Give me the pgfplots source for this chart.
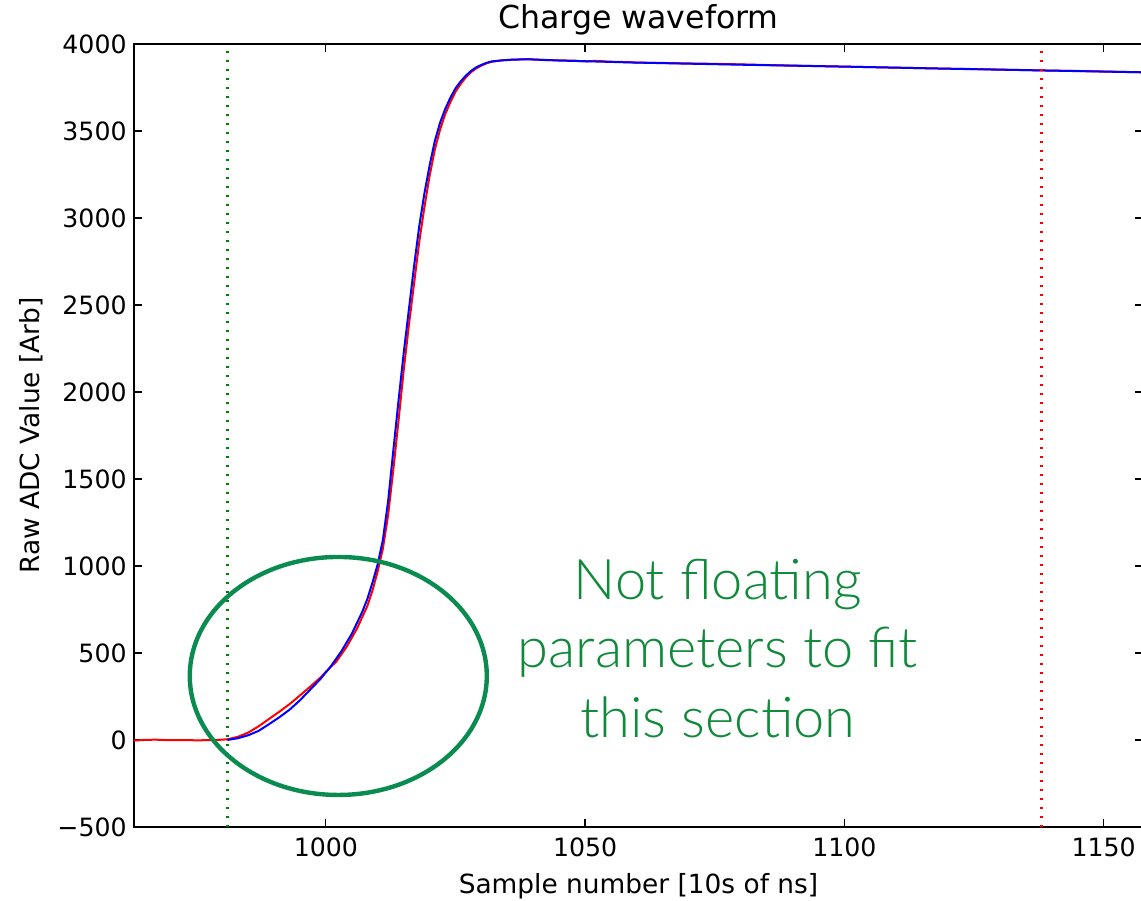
\documentclass[border=0pt]{standalone}
\usepackage{pgfplots}
\pgfplotsset{compat=1.18}
\usepackage{fontspec}
\setmainfont{DejaVu Sans}
\newfontfamily\notefont{Lato Light}

\definecolor{mplgreen}{rgb}{0,0.5,0}
\definecolor{notegreen}{RGB}{16,138,58}
\definecolor{ringgreen}{RGB}{10,140,80}

% measured charge waveform (raw ADC counts)
\pgfplotstableread{
x y
963 -3
965 0
967 2
969 0
971 -1
973 0
975 -2
977 -1
979 0
981 4
983 18
985 42
987 78
989 120
991 162
993 206
995 256
997 307
999 360
1000 392
1002 450
1004 535
1006 640
1008 770
1009 860
1010 970
1011 1100
1012 1290
1013 1550
1014 1830
1015 2120
1016 2380
1017 2620
1018 2860
1019 3060
1020 3240
1021 3390
1022 3505
1023 3595
1024 3665
1025 3725
1026 3770
1027 3808
1028 3838
1029 3860
1030 3876
1031 3889
1032 3898
1034 3906
1036 3910
1039 3913
1042 3908
1045 3906
1048 3904
1050 3900
1052 3903
1055 3898
1058 3896
1060 3893
1065 3891
1070 3888
1075 3886
1080 3883
1085 3879
1090 3876
1095 3873
1100 3870
1105 3867
1110 3864
1115 3861
1120 3858
1125 3856
1130 3853
1135 3850
1140 3847
1145 3845
1150 3842
1155 3839
1158 3837
}\datatable

% fitted pulse shape
\pgfplotstableread{
x y
981 0
983 10
985 27
987 52
989 90
991 130
993 174
995 228
997 290
999 352
1001 425
1003 510
1005 610
1007 735
1008 810
1009 905
1010 1010
1011 1150
1012 1370
1013 1660
1014 1945
1015 2220
1016 2470
1017 2720
1018 2950
1019 3140
1020 3300
1021 3440
1022 3545
1023 3625
1024 3690
1025 3745
1026 3785
1027 3818
1028 3845
1029 3866
1030 3880
1031 3892
1032 3900
1034 3906
1036 3910
1039 3912
1045 3905
1060 3893
1080 3881
1100 3870
1120 3858
1140 3847
1158 3837
}\fittable

\begin{document}
\begin{tikzpicture}
\begin{axis}[
  name=main,
  scale only axis,
  width=504.5pt, height=391.5pt,
  xmin=963, xmax=1157.6,
  ymin=-500, ymax=4000,
  xtick={1000,1050,1100,1150},
  ytick={-500,0,500,1000,1500,2000,2500,3000,3500,4000},
  yticklabels={−500,0,500,1000,1500,2000,2500,3000,3500,4000},
  xticklabels={1000,1050,1100,1150},
  tick align=inside,
  major tick length=4pt,
  tick style={black, line width=0.6pt},
  axis line style={black, line width=1pt},
  every tick label/.append style={font=\fontsize{12.6}{15}\selectfont},
  xticklabel style={anchor=north, inner sep=0pt, yshift=-5pt},
  yticklabel style={anchor=east, inner sep=0pt, xshift=-3.5pt},
  title={Charge waveform},
  every axis title/.style={at={(0.5,1)}, anchor=base, yshift=7.5pt, font=\fontsize{15.8}{19}\selectfont},
  xlabel={Sample number [10s of ns]},
  ylabel={Raw ADC Value [Arb]},
  every axis x label/.style={at={(axis description cs:0.5,0)}, anchor=base, yshift=-33pt, font=\fontsize{13.2}{16}\selectfont},
  every axis y label/.style={at={(axis description cs:-0.0932,0.5)}, rotate=90, anchor=base, font=\fontsize{13.2}{16}\selectfont},
]
\addplot[red, line width=1pt] table[x=x, y=y] {\datatable};
\addplot[blue, line width=1pt] table[x=x, y=y] {\fittable};
\addplot[mplgreen, line width=1.2pt, dash pattern=on 1.2pt off 3.3pt] coordinates {(981,-500) (981,4000)};
\addplot[red, line width=1.2pt, dash pattern=on 1.2pt off 3.3pt] coordinates {(1138,-500) (1138,4000)};
\draw[ringgreen, line width=2.2pt] (axis cs:1002.4,368) ellipse [x radius=74.25pt, y radius=59.5pt];
\node[notegreen, font=\notefont\fontsize{28}{34}\selectfont, anchor=base, inner sep=0pt] at (axis cs:1075.6,804.6) {Not floating};
\node[notegreen, font=\notefont\fontsize{28}{34}\selectfont, anchor=base, inner sep=0pt] at (axis cs:1075.6,413.8) {parameters to fit};
\node[notegreen, font=\notefont\fontsize{28}{34}\selectfont, anchor=base, inner sep=0pt] at (axis cs:1075.6,17.2) {this section};
\end{axis}
\pgfresetboundingbox
\path ([xshift=-67pt,yshift=-36.5pt]main.south west) rectangle ([xshift=-1pt,yshift=22pt]main.north east);
\end{tikzpicture}
\end{document}
